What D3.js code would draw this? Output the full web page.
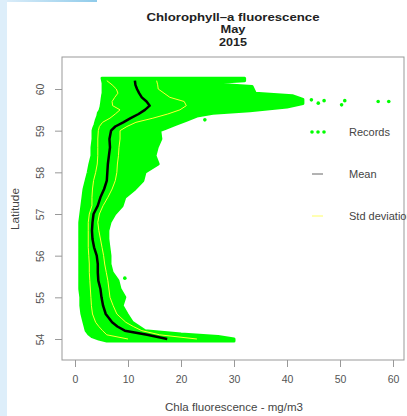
<!DOCTYPE html>
<html>
<head>
<meta charset="utf-8">
<script src="https://cdn.jsdelivr.net/npm/d3@7"></script>
<style>
  body { margin: 0; background: #fff; }
  text { font-family: "Liberation Sans", Arial, sans-serif; }
</style>
</head>
<body>
<div id="chart"></div>
<script>
// records envelope (min / max fluorescence per latitude)
var recLat = [60.26, 60.2, 60.14, 60.06, 59.9, 59.84, 59.75, 59.65, 59.57, 59.48, 59.42, 59.35, 59.25, 59.15, 59.05, 59.0, 58.8, 58.6, 58.4, 58.2, 58.0, 57.8, 57.6, 57.4, 57.2, 57.0, 56.8, 56.6, 56.4, 56.2, 56.0, 55.8, 55.6, 55.4, 55.2, 55.0, 54.8, 54.6, 54.4, 54.3, 54.2, 54.12, 54.06, 54.0, 53.95];
var recMin = [5.1, 5.2, 5.3, 5.3, 5.3, 5.2, 5.1, 5.0, 4.9, 4.7, 4.4, 4.3, 4.0, 3.8, 3.5, 3.4, 3.4, 3.2, 3.2, 2.8, 2.5, 2.1, 1.7, 1.5, 1.3, 1.1, 0.9, 0.9, 0.9, 0.9, 0.9, 0.9, 0.9, 0.9, 0.9, 1.1, 1.1, 1.3, 1.7, 1.9, 2.1, 2.6, 3.2, 4.5, 6.0];
var recMax = [32.0, 32.0, 24.0, 33.4, 34.0, 41.0, 43.0, 43.0, 40.0, 33.0, 26.0, 23.0, 21.0, 19.0, 17.0, 16.0, 16.2, 15.5, 15.1, 15.7, 13.2, 12.8, 11.3, 9.4, 8.9, 7.5, 6.6, 6.2, 6.2, 6.4, 6.6, 6.6, 7.0, 8.1, 8.5, 9.4, 8.9, 9.8, 10.8, 12.0, 13.2, 20.0, 27.0, 30.0, 30.0];

// isolated records
var outVal = [44.6, 45.9, 47.0, 50.9, 50.3, 57.2, 59.2, 24.5, 9.4];
var outLat = [59.74, 59.66, 59.72, 59.72, 59.62, 59.70, 59.70, 59.26, 55.46];

// mean and +/- standard deviation
var lat = [60.2, 60.1, 60.0, 59.9, 59.8, 59.7, 59.6, 59.5, 59.4, 59.3, 59.2, 59.1, 59.0, 58.8, 58.6, 58.4, 58.2, 58.0, 57.8, 57.6, 57.4, 57.2, 57.0, 56.8, 56.6, 56.4, 56.2, 56.0, 55.8, 55.6, 55.4, 55.2, 55.0, 54.8, 54.6, 54.4, 54.3, 54.2, 54.1, 54.0];
var mean = [11.3, 11.4, 11.7, 12.1, 12.6, 13.5, 14.1, 13.2, 12.0, 10.5, 9.1, 7.6, 6.8, 6.5, 6.6, 6.4, 6.2, 6.1, 6.0, 5.5, 4.8, 4.3, 3.5, 3.3, 3.2, 3.3, 3.6, 4.1, 4.3, 4.3, 4.4, 4.8, 5.0, 5.3, 5.8, 7.0, 8.0, 9.4, 13.6, 17.4];
var sdLow = [6.0, 7.0, 7.8, 8.1, 7.5, 7.0, 7.1, 8.5, 7.6, 6.6, 5.2, 4.6, 4.4, 4.3, 4.3, 4.3, 4.2, 3.9, 3.5, 3.3, 3.2, 3.2, 2.7, 2.5, 2.5, 2.5, 2.5, 2.6, 2.7, 2.7, 2.8, 2.9, 3.0, 3.1, 3.3, 3.9, 4.5, 5.2, 6.0, 10.0];
var sdHigh = [15.4, 15.6, 15.7, 16.8, 17.9, 20.6, 21.0, 19.8, 17.5, 14.7, 11.5, 9.8, 8.5, 8.5, 8.3, 8.2, 8.0, 7.9, 7.6, 7.0, 6.2, 5.3, 4.6, 4.3, 4.5, 4.8, 5.1, 5.4, 5.6, 5.9, 6.2, 6.4, 6.6, 7.2, 7.9, 9.6, 11.0, 12.6, 16.0, 23.0];

var xTicks = [0, 10, 20, 30, 40, 50, 60];
var yTicks = [54, 55, 56, 57, 58, 59, 60];
var legendLabels = ["Records", "Mean", "Std deviation"];

var width = 407, height = 416;
var box = {left: 62, right: 404, top: 57, bottom: 360};

var svg = d3.select("#chart")
  .append("svg")
    .attr("width", width)
    .attr("height", height);

// page decoration on the left / top
var grad = svg.append("defs").append("linearGradient")
    .attr("id", "topgrad");
grad.append("stop").attr("offset", "0%").attr("stop-color", "#d9ecf9");
grad.append("stop").attr("offset", "100%").attr("stop-color", "#8fcbea");
svg.append("rect").attr("x", 0).attr("y", 0).attr("width", 7).attr("height", height).attr("fill", "#ddeefa");
svg.append("rect").attr("x", 7).attr("y", 0).attr("width", 90).attr("height", 2).attr("fill", "url(#topgrad)");

var x = d3.scaleLinear()
  .domain([0, 60])
  .range([75, 393]);

var y = d3.scaleLinear()
  .domain([54, 60])
  .range([339, 89]);

var green = "#00ff00";

// records cloud
var rec = recLat.map(function(d, i) { return {lat: d, lo: recMin[i], hi: recMax[i]}; });
svg.append("path")
  .datum(rec)
  .attr("d", d3.area()
    .y(function(d) { return y(d.lat); })
    .x0(function(d) { return x(d.lo); })
    .x1(function(d) { return x(d.hi); }))
  .attr("fill", green)
  .attr("stroke", green)
  .attr("stroke-width", 3)
  .attr("stroke-linejoin", "round");

svg.append("g")
  .selectAll("circle")
  .data(outVal)
  .enter()
  .append("circle")
    .attr("cx", function(d) { return x(d); })
    .attr("cy", function(d, i) { return y(outLat[i]); })
    .attr("r", 1.8)
    .attr("fill", green);

// sd and mean lines
function profile(vals) {
  return d3.line()
    .x(function(d) { return x(d); })
    .y(function(d, i) { return y(lat[i]); })(vals);
}
svg.append("path").attr("d", profile(sdLow))
  .attr("fill", "none").attr("stroke", "#ffff33").attr("stroke-width", 1);
svg.append("path").attr("d", profile(sdHigh))
  .attr("fill", "none").attr("stroke", "#ffff33").attr("stroke-width", 1);
svg.append("path").attr("d", profile(mean))
  .attr("fill", "none").attr("stroke", "#000").attr("stroke-width", 2.5)
  .attr("stroke-linejoin", "round");

// frame
svg.append("rect")
  .attr("x", box.left).attr("y", box.top)
  .attr("width", box.right - box.left).attr("height", box.bottom - box.top)
  .attr("fill", "none").attr("stroke", "#999").attr("stroke-width", 1);

// axes
var xAxis = svg.append("g")
  .attr("transform", "translate(0," + box.bottom + ")")
  .call(d3.axisBottom(x).tickValues(xTicks).tickSize(7).tickPadding(9));
xAxis.select(".domain").remove();
xAxis.selectAll("line").attr("stroke", "#999");
xAxis.selectAll("text")
  .attr("fill", "#555")
  .style("font-size", "10.5px")
  .style("font-family", "Liberation Sans, Arial, sans-serif");

var yAxis = svg.append("g")
  .attr("transform", "translate(" + box.left + ",0)")
  .call(d3.axisLeft(y).tickValues(yTicks).tickFormat(d3.format("d")).tickSize(7));
yAxis.select(".domain").remove();
yAxis.selectAll("line").attr("stroke", "#999");
yAxis.selectAll("text")
  .attr("transform", "rotate(-90)")
  .attr("x", 0)
  .attr("y", -22)
  .attr("dy", "0.35em")
  .attr("text-anchor", "middle")
  .attr("fill", "#555")
  .style("font-size", "10.5px")
  .style("font-family", "Liberation Sans, Arial, sans-serif");

// titles
var titleLines = ["Chlorophyll\u2013a fluorescence", "May", "2015"];
var titleLens = [173, 25, 28];
svg.append("g")
  .selectAll("text")
  .data(titleLines)
  .enter()
  .append("text")
    .attr("x", (box.left + box.right) / 2)
    .attr("y", function(d, i) { return 20.5 + i * 12.8; })
    .attr("text-anchor", "middle")
    .attr("font-weight", "bold")
    .attr("font-size", "11.5px")
    .attr("textLength", function(d, i) { return titleLens[i]; })
    .attr("lengthAdjust", "spacingAndGlyphs")
    .attr("fill", "#222")
    .text(function(d) { return d; });

svg.append("text")
  .attr("x", 234)
  .attr("y", 411)
  .attr("text-anchor", "middle")
  .attr("font-size", "10.5px")
  .attr("textLength", 138)
  .attr("lengthAdjust", "spacingAndGlyphs")
  .attr("fill", "#444")
  .text("Chla fluorescence - mg/m3");

svg.append("text")
  .attr("transform", "translate(19,209) rotate(-90)")
  .attr("text-anchor", "middle")
  .attr("font-size", "10.5px")
  .attr("textLength", 42)
  .attr("lengthAdjust", "spacingAndGlyphs")
  .attr("fill", "#444")
  .text("Latitude");

// legend
var leg = svg.append("g");
var legY = [132, 174, 216];
leg.selectAll("circle")
  .data([312, 318, 324])
  .enter()
  .append("circle")
    .attr("cx", function(d) { return d; })
    .attr("cy", legY[0])
    .attr("r", 1.8)
    .attr("fill", green);
leg.append("line").attr("x1", 312).attr("x2", 323).attr("y1", legY[1]).attr("y2", legY[1])
  .attr("stroke", "#666").attr("stroke-width", 1);
leg.append("line").attr("x1", 312).attr("x2", 323).attr("y1", legY[2]).attr("y2", legY[2])
  .attr("stroke", "#ffff66").attr("stroke-width", 1);
leg.selectAll("text")
  .data(legendLabels)
  .enter()
  .append("text")
    .attr("x", 349)
    .attr("y", function(d, i) { return legY[i]; })
    .attr("dy", "0.35em")
    .attr("font-size", "11px")
    .attr("fill", "#444")
    .text(function(d) { return d; });
</script>
</body>
</html>
